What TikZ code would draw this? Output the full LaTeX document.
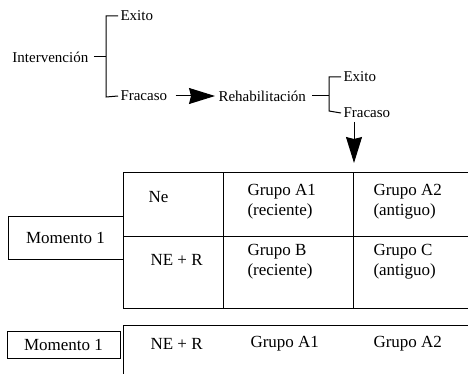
\documentclass[tikz,border=0pt]{standalone}
\usepackage{fontspec}
\setmainfont{Liberation Serif}
\usetikzlibrary{arrows.meta}
\begin{document}
\begin{tikzpicture}[x=1pt,y=-1pt,line width=1pt,
  tree/.style={font=\fontsize{15}{18}\selectfont,inner sep=0pt,anchor=west},
  cell/.style={font=\fontsize{17}{20}\selectfont,inner sep=0pt,anchor=west,align=left},
  mbox/.style={draw,font=\fontsize{17}{20}\selectfont,inner sep=0pt},
  bigarrow/.style={-{Stealth[length=26pt,width=16pt,inset=2pt]}}]
\useasboundingbox (0,0) rectangle (468,374);
% tree
\node[tree] (int) at (12,57) {Intervención};
\node[tree] (ex1) at (120,16) {Exito};
\node[tree] (fr1) at (120,96) {Fracaso};
\node[tree] (reh) at (218,96) {Rehabilitación};
\node[tree] (ex2) at (343,77) {Exito};
\node[tree] (fr2) at (343,113) {Fracaso};
\coordinate (b1t) at (106,16);
\coordinate (b1b) at (106,97);
\coordinate (b2t) at (329,77);
\coordinate (b2b) at (329,111);
\draw ([xshift=5pt]int.east) -- (int.east -| b1t);
\draw ([xshift=-2pt]ex1.west) -- (b1t) -- (b1b) -- ([xshift=-2pt]fr1.west);
\draw[bigarrow] ([xshift=8pt]fr1.east) -- ([xshift=-3pt]reh.west);
\draw ([xshift=6pt]reh.east) -- (reh.east -| b2t);
\draw ([xshift=-2pt]ex2.west) -- (b2t) -- (b2b) -- ([xshift=-2pt]fr2.west);
\coordinate (dnA) at (354,122);
\coordinate (dnB) at (354,163);
\draw[bigarrow] (dnA) -- (dnB);
% upper table
\draw (468,173) -- (123,173) -- (123,308) -- (468,308);
\draw (123,236) -- (468,236);
\draw (223,173) -- (223,308);
\draw (353,173) -- (353,308);
\node[mbox,minimum width=115pt,minimum height=43pt] (m1) at (65.5,237.5) {Momento 1};
\node[cell] (ne) at (148,197) {Ne};
\node[cell] (ner) at (150,260) {NE + R};
\node[cell] (ga1) at (247,202) {Grupo A1\\(reciente)};
\node[cell] (ga2) at (373,202) {Grupo A2\\(antiguo)};
\node[cell] (gb) at (247,261.5) {Grupo B\\(reciente)};
\node[cell] (gc) at (373,261.5) {Grupo C\\(antiguo)};
% lower table
\draw (123,374) -- (123,325) -- (468,325);
\node[mbox,minimum width=113pt,minimum height=27pt] (m2) at (63.5,344.5) {Momento 1};
\node[cell] (ner2) at (150,344) {NE + R};
\node[cell] (la1) at (250,344) {Grupo A1};
\node[cell] (la2) at (373,344) {Grupo A2};
\end{tikzpicture}
\end{document}
